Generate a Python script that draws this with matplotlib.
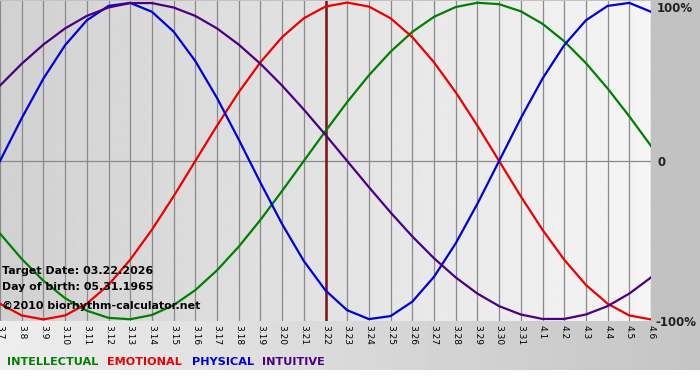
import numpy as np
import matplotlib
matplotlib.use("Agg")
import matplotlib.pyplot as plt

day_labels = ["3.7", "3.8", "3.9", "3.10", "3.11", "3.12", "3.13", "3.14", "3.15", "3.16",
              "3.17", "3.18", "3.19", "3.20", "3.21", "3.22", "3.23", "3.24", "3.25", "3.26",
              "3.27", "3.28", "3.29", "3.30", "3.31", "4.1", "4.2", "4.3", "4.4", "4.5", "4.6"]

# values in -1..1, read per day off the chart
intellectual = [-0.458, -0.618, -0.756, -0.866, -0.945, -0.990, -0.999, -0.972, -0.910, -0.815,
                -0.690, -0.541, -0.372, -0.189, 0.0, 0.189, 0.372, 0.541, 0.690, 0.815,
                0.910, 0.972, 0.999, 0.990, 0.945, 0.866, 0.756, 0.618, 0.458, 0.282, 0.095]
emotional = [-0.901, -0.975, -1.0, -0.975, -0.901, -0.782, -0.623, -0.434, -0.223, 0.0,
             0.223, 0.434, 0.623, 0.782, 0.901, 0.975, 1.0, 0.975, 0.901, 0.782,
             0.623, 0.434, 0.223, 0.0, -0.223, -0.434, -0.623, -0.782, -0.901, -0.975, -1.0]
physical = [0.0, 0.270, 0.520, 0.731, 0.888, 0.979, 0.998, 0.942, 0.817, 0.631,
            0.398, 0.136, -0.136, -0.398, -0.631, -0.817, -0.942, -0.998, -0.979, -0.888,
            -0.731, -0.520, -0.270, 0.0, 0.270, 0.520, 0.731, 0.888, 0.979, 0.998, 0.942]
intuitive = [0.476, 0.614, 0.735, 0.837, 0.916, 0.969, 0.997, 0.997, 0.969, 0.916,
             0.837, 0.735, 0.614, 0.476, 0.325, 0.165, 0.0, -0.165, -0.325, -0.476,
             -0.614, -0.735, -0.837, -0.916, -0.969, -0.997, -0.997, -0.969, -0.916, -0.837, -0.735]

target_day = "3.22"
info_lines = ["Target Date: 03.22.2026", "Day of birth: 05.31.1965"]
credit = "\u00a92010 biorhythm-calculator.net"

series = [("INTELLECTUAL", intellectual, "#008000"),
          ("EMOTIONAL", emotional, "#ee0000"),
          ("PHYSICAL", physical, "#0000dd"),
          ("INTUITIVE", intuitive, "#4b0082")]

W, H = 700, 380
fig = plt.figure(figsize=(W / 100, H / 100), dpi=100)

def fx(px):
    return px / W

def fy(py):
    return 1 - py / H

# figure background: grey panel, gradient band under the plot, white strip at the bottom
bg = fig.add_axes([0, 0, 1, 1])
bg.axis("off")
arr = np.full((H, W), 0.76)
arr[321:370, :] = np.linspace(0.93, 0.77, W)[None, :]
arr[370:, :] = 1.0
bg.imshow(arr, cmap="gray", vmin=0, vmax=1, aspect="auto", extent=(0, W, H, 0))
bg.set_xlim(0, W)
bg.set_ylim(H, 0)

ax = fig.add_axes([0, fy(321), fx(651), 320 / H])
x = np.arange(len(day_labels))
ax.set_xlim(0, len(day_labels) - 1)
ax.set_ylim(-1.01, 1.01)

grad = np.linspace(0.82, 0.96, 300)[None, :]
ax.imshow(grad, cmap="gray", vmin=0, vmax=1, aspect="auto",
          extent=(0, len(day_labels) - 1, -1.01, 1.01), zorder=0)

for xi in x:
    ax.axvline(xi, color="#8a8a8a", lw=0.9, zorder=1)
ax.axhline(0, color="#8a8a8a", lw=0.9, zorder=1)
ax.axvline(day_labels.index(target_day), color="#7a1212", lw=1.8, zorder=2)

for name, vals, col in series:
    ax.plot(x, vals, color=col, lw=1.6, zorder=3, solid_joinstyle="round")

for s in ax.spines.values():
    s.set_visible(False)
ax.set_yticks([])
ax.set_xticks(x)
ax.set_xticklabels(day_labels, rotation=270, fontsize=6.5)
ax.tick_params(axis="x", length=0, pad=3)

# right hand percent labels
fig.text(fx(657), fy(8), "100%", fontsize=8.5, fontweight="bold", color="#222222", va="center")
fig.text(fx(657), fy(162), "0", fontsize=8.5, fontweight="bold", color="#222222", va="center")
fig.text(fx(655), fy(322), "-100%", fontsize=8.5, fontweight="bold", color="#222222", va="center")

# info text on the chart
fig.text(fx(2), fy(271), info_lines[0], fontsize=7.9, fontweight="bold", va="center")
fig.text(fx(2), fy(287), info_lines[1], fontsize=7.9, fontweight="bold", va="center")
fig.text(fx(2), fy(306), credit, fontsize=7.9, fontweight="bold", va="center")

# legend words
leg_x = [7, 107, 192, 262]
for (name, vals, col), lx in zip(series, leg_x):
    fig.text(fx(lx), fy(362), name, fontsize=8.1, fontweight="bold", color=col, va="center")

fig.savefig("out.png", dpi=100)
